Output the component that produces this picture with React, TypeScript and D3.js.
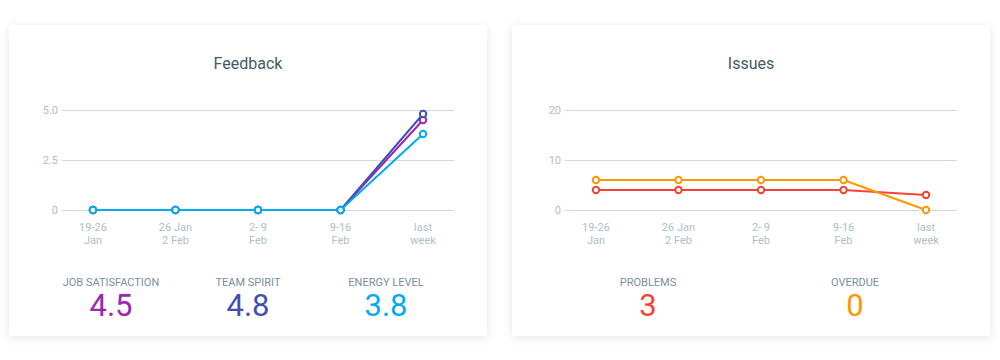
import React, { useEffect, useRef } from "react";
import * as d3 from "d3";

const weeks = ["19-26|Jan", "26 Jan|2 Feb", "2- 9|Feb", "9-16|Feb", "last|week"];

const jobSatisfaction = [0, 0, 0, 0, 4.5];
const teamSpirit = [0, 0, 0, 0, 4.8];
const energyLevel = [0, 0, 0, 0, 3.8];
const feedbackTicks = [0, 2.5, 5];

const problems = [4, 4, 4, 4, 3];
const overdue = [6, 6, 6, 6, 0];
const issuesTicks = [0, 10, 20];

const feedbackSeries = [
  { name: "JOB SATISFACTION", values: jobSatisfaction, color: "#9c27b0", current: "4.5", cx: 111 },
  { name: "TEAM SPIRIT", values: teamSpirit, color: "#3f51b5", current: "4.8", cx: 248 },
  { name: "ENERGY LEVEL", values: energyLevel, color: "#03a9f4", current: "3.8", cx: 386 },
];

const issuesSeries = [
  { name: "PROBLEMS", values: problems, color: "#f44336", current: "3", cx: 648 },
  { name: "OVERDUE", values: overdue, color: "#ff9800", current: "0", cx: 855 },
];

type Series = { name: string; values: number[]; color: string; current: string; cx: number };

function drawCard(
  svg: d3.Selection<SVGSVGElement, unknown, null, undefined>,
  x0: number,
  title: string,
  series: Series[],
  ticks: number[],
  tickFmt: (v: number) => string
) {
  const cardW = 478;
  const card = svg.append("g");
  card.append("rect")
    .attr("x", x0).attr("y", 25).attr("width", cardW).attr("height", 311)
    .attr("fill", "#fff").attr("rx", 2)
    .attr("filter", "url(#shadow)");

  card.append("text")
    .attr("x", x0 + cardW / 2).attr("y", 69)
    .attr("text-anchor", "middle")
    .attr("font-size", 16).attr("fill", "#455a64")
    .text(title);

  const left = x0 + 53;
  const right = x0 + 445;
  const xScale = d3.scalePoint<number>()
    .domain(d3.range(weeks.length))
    .range([left, right])
    .padding(0.375);
  const yScale = d3.scaleLinear()
    .domain([0, d3.max(ticks) as number])
    .range([210, 110]);

  // grid + y labels
  const grid = card.append("g");
  grid.selectAll("line").data(ticks).join("line")
    .attr("x1", left).attr("x2", right)
    .attr("y1", (d) => yScale(d) + 0.5).attr("y2", (d) => yScale(d) + 0.5)
    .attr("stroke", "#cfd8dc").attr("stroke-width", 1);
  grid.selectAll("text").data(ticks).join("text")
    .attr("x", left - 4).attr("y", (d) => yScale(d) + 4)
    .attr("text-anchor", "end")
    .attr("font-size", 11).attr("fill", "#b0bec5")
    .text(tickFmt);

  // x labels, two lines each
  const xl = card.append("g");
  weeks.forEach((w, i) => {
    const t = xl.append("text")
      .attr("x", xScale(i) as number).attr("y", 231)
      .attr("text-anchor", "middle")
      .attr("font-size", 11).attr("fill", "#b0bec5");
    w.split("|").forEach((part, j) => {
      t.append("tspan").attr("x", xScale(i) as number).attr("dy", j === 0 ? 0 : 13).text(part);
    });
  });

  const line = d3.line<number>()
    .x((_, i) => xScale(i) as number)
    .y((d) => yScale(d));

  series.forEach((s) => {
    const g = card.append("g");
    g.append("path").datum(s.values)
      .attr("d", line).attr("fill", "none")
      .attr("stroke", s.color).attr("stroke-width", 2);
    g.selectAll("circle").data(s.values).join("circle")
      .attr("cx", (_, i) => xScale(i) as number)
      .attr("cy", (d) => yScale(d))
      .attr("r", 3.2)
      .attr("fill", "#fff").attr("stroke", s.color).attr("stroke-width", 2);

    card.append("text")
      .attr("x", s.cx).attr("y", 286)
      .attr("text-anchor", "middle")
      .attr("font-size", 11).attr("fill", "#78909c")
      .text(s.name);
    card.append("text")
      .attr("x", s.cx).attr("y", 316)
      .attr("text-anchor", "middle")
      .attr("font-size", 31).attr("fill", s.color)
      .text(s.current);
  });
}

export default function App() {
  const ref = useRef<SVGSVGElement>(null);

  useEffect(() => {
    const svg = d3.select(ref.current as SVGSVGElement);
    svg.selectAll("*").remove();

    const defs = svg.append("defs");
    const f = defs.append("filter").attr("id", "shadow")
      .attr("x", "-10%").attr("y", "-10%").attr("width", "120%").attr("height", "130%");
    f.append("feDropShadow")
      .attr("dx", 0).attr("dy", 2).attr("stdDeviation", 5)
      .attr("flood-color", "#000").attr("flood-opacity", 0.1);

    // draw order: purple, indigo, light blue on top
    drawCard(svg, 9, "Feedback", feedbackSeries, feedbackTicks, (v) => (v === 0 ? "0" : v.toFixed(1)));
    drawCard(svg, 512, "Issues", issuesSeries, issuesTicks, (v) => String(v));
  }, []);

  return (
    <svg
      ref={ref}
      width={1000}
      height={360}
      style={{ position: "absolute", left: 0, top: 0, fontFamily: "Roboto, sans-serif", background: "#fff" }}
    />
  );
}
